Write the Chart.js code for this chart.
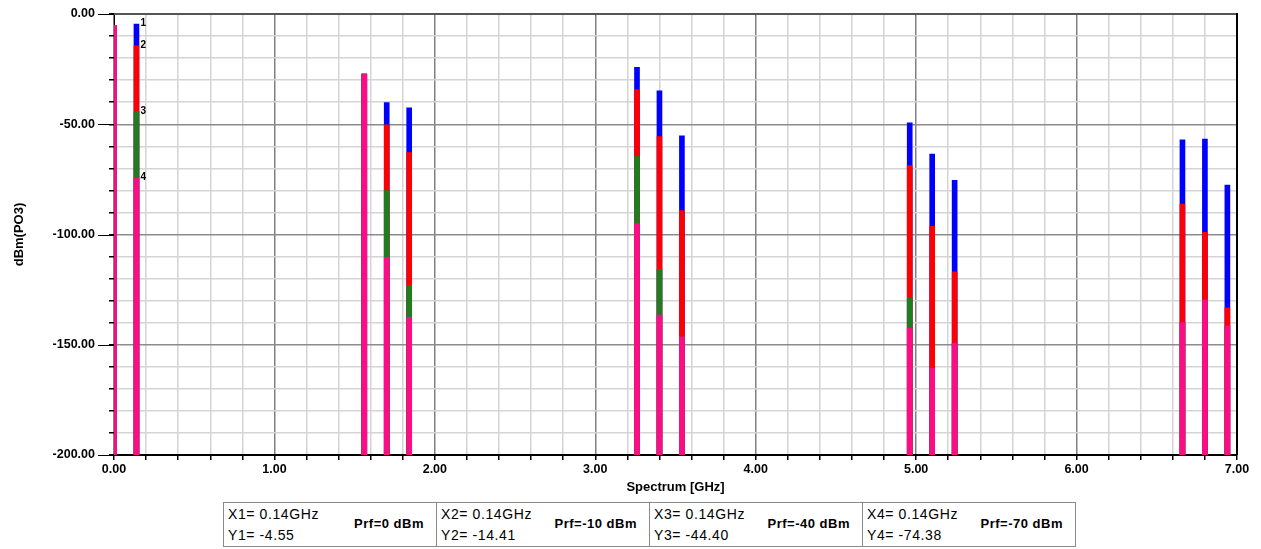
<!DOCTYPE html>
<html>
<head>
<meta charset="utf-8">
<script src="https://cdn.jsdelivr.net/npm/chart.js@4/dist/chart.umd.min.js"></script>
<style>
    body { margin: 0; background: #fff; }
    #wrap { position: relative; width: 1261px; height: 549px; }
    #legendBox {
        position: absolute; left: 223px; top: 502px; width: 853px; height: 45px;
        display: flex; border: 1px solid #8a8a8a; box-sizing: border-box;
        font-family: "Liberation Sans", Arial, sans-serif;
    }
    .cell { flex: 1; position: relative; border-right: 1px solid #8a8a8a; }
    .cell:last-child { border-right: none; }
    .xy { position: absolute; left: 4px; top: 1px; font-size: 14px; line-height: 21px; letter-spacing: 0.6px; color: #000; }
    .prf { position: absolute; right: 12px; top: 13px; font-weight: bold; font-size: 13px; letter-spacing: 0.5px; color: #000; }
</style>
</head>
<body>
<div id="wrap">
    <canvas id="spec" width="1261" height="500"></canvas>
    <div id="legendBox"></div>
</div>
<script>
// spectrum lines (GHz) and output levels (dBm) for each RF drive level
const freqs = [0.00, 0.14, 1.56, 1.70, 1.84, 3.26, 3.40, 3.54, 4.96, 5.10, 5.24, 6.66, 6.80, 6.94];
const prf0  = [-5.1, -4.55, -27.2, -40.2, -42.5, -24.2, -34.8, -55.3, -49.3, -63.5, -75.4, -57.1, -56.7, -77.6];
const prf10 = [-5.1, -14.41, -27.2, -50.3, -62.9, -34.3, -55.6, -89.2, -68.8, -96.3, -116.9, -86.2, -99.0, -133.2];
const prf40 = [-5.1, -44.40, -27.2, -80.1, -123.2, -64.7, -115.8, -146.5, -128.7, -160.7, -149.4, -139.8, -129.7, -141.5];
const prf70 = [-5.1, -74.38, -27.2, -110.3, -137.6, -94.9, -136.6, -146.5, -142.6, -160.7, -149.4, -139.8, -129.7, -141.5];

const prfLabels = ['Prf=0 dBm', 'Prf=-10 dBm', 'Prf=-40 dBm', 'Prf=-70 dBm'];
const markerIndex = 1; // markers sit on the 0.14 GHz line
const yMin = -200, yMax = 0;

const series = [prf0, prf10, prf40, prf70];
const colors = ['#0000ff', '#ff0000', '#1e7d1e', '#ff0a87'];

function bars(vals) {
    return freqs.map((f, i) => ({ x: f, y: [yMin, vals[i]] }));
}

const isMajor = (v, step) => Math.abs(v / step - Math.round(v / step)) < 1e-6;
const FONT = '"Liberation Sans", Arial, sans-serif';

// marker numbers, long ticks on the major y labels, top/right frame
const extras = {
    id: 'extras',
    afterDatasetsDraw(chart) {
        const ctx = chart.ctx;
        const xs = chart.scales.x, ys = chart.scales.y;
        ctx.save();
        ctx.font = 'bold 10px ' + FONT;
        ctx.fillStyle = '#000';
        ctx.textBaseline = 'middle';
        series.forEach((vals, k) => {
            const px = xs.getPixelForValue(freqs[markerIndex]) + 4;
            const py = ys.getPixelForValue(vals[markerIndex]) - 1;
            ctx.fillText(String(k + 1), px, py);
        });
        ctx.strokeStyle = '#000';
        ctx.lineWidth = 1;
        for (let v = yMin; v <= yMax; v += 50) {
            const py = Math.round(ys.getPixelForValue(v)) + 0.5;
            ctx.beginPath();
            ctx.moveTo(xs.left - 16, py);
            ctx.lineTo(xs.left, py);
            ctx.stroke();
        }
        ctx.strokeStyle = '#555';
        ctx.lineWidth = 2;
        ctx.beginPath();
        ctx.moveTo(xs.left, ys.top);
        ctx.lineTo(xs.right, ys.top);
        ctx.stroke();
        ctx.strokeStyle = '#000';
        ctx.beginPath();
        ctx.moveTo(xs.right, ys.top - 1);
        ctx.lineTo(xs.right, ys.bottom);
        ctx.stroke();
        ctx.restore();
    }
};

new Chart(document.getElementById('spec').getContext('2d'), {
    type: 'bar',
    data: {
        datasets: series.map((vals, k) => ({
            label: prfLabels[k],
            data: bars(vals),
            backgroundColor: colors[k],
            borderWidth: 0,
            barThickness: 5,
            order: 3 - k
        }))
    },
    options: {
        responsive: false,
        animation: false,
        events: [],
        layout: { padding: { left: 12, right: 24, top: 14, bottom: 0 } },
        datasets: { bar: { grouped: false } },
        plugins: { legend: { display: false }, tooltip: { enabled: false } },
        scales: {
            x: {
                type: 'linear',
                min: 0, max: 7,
                offset: false,
                afterFit(scale) {
                    scale.height = 45;
                    scale.paddingLeft = 0;
                    scale.paddingRight = 0;
                },
                ticks: {
                    stepSize: 0.2,
                    autoSkip: false,
                    maxRotation: 0,
                    padding: 2,
                    color: '#000',
                    font: { family: FONT, size: 12.5, weight: 'bold' },
                    callback: v => isMajor(v, 1) ? v.toFixed(2) : ''
                },
                grid: {
                    offset: false,
                    tickLength: 5,
                    color: c => {
                        const v = c.tick ? c.tick.value : 0;
                        return isMajor(v, 1) ? '#808080' : '#d4d4d4';
                    },
                    tickColor: '#000',
                    lineWidth: 1.5
                },
                border: { display: true, color: '#000', width: 2 },
                title: {
                    display: true,
                    text: 'Spectrum [GHz]',
                    color: '#000',
                    font: { family: FONT, size: 13, weight: 'bold' },
                    padding: { top: 4, bottom: 5 }
                }
            },
            y: {
                min: yMin, max: yMax,
                afterFit(scale) {
                    scale.width = 102;
                    scale.paddingTop = 0;
                    scale.paddingBottom = 0;
                },
                ticks: {
                    stepSize: 10,
                    autoSkip: false,
                    padding: 14,
                    color: '#000',
                    font: { family: FONT, size: 12.5, weight: 'bold' },
                    callback: v => isMajor(v, 50) ? v.toFixed(2) : ''
                },
                grid: {
                    offset: false,
                    tickLength: 5,
                    color: c => {
                        const v = c.tick ? c.tick.value : 0;
                        return isMajor(v, 50) ? '#8c8c8c' : '#d4d4d4';
                    },
                    tickColor: '#000',
                    lineWidth: 1.5
                },
                border: { display: true, color: '#000', width: 1 },
                title: {
                    display: true,
                    text: 'dBm(PO3)',
                    color: '#000',
                    font: { family: FONT, size: 13, weight: 'bold' },
                    padding: { top: 0, bottom: 0 }
                }
            }
        }
    },
    plugins: [extras]
});

// marker readout table under the plot
const box = document.getElementById('legendBox');
series.forEach((vals, k) => {
    const cell = document.createElement('div');
    cell.className = 'cell';
    cell.innerHTML =
        '<div class="xy">X' + (k + 1) + '= ' + freqs[markerIndex].toFixed(2) + 'GHz<br>Y' + (k + 1) + '= ' +
        vals[markerIndex].toFixed(2) + '</div><div class="prf">' + prfLabels[k] + '</div>';
    box.appendChild(cell);
});
</script>
</body>
</html>
